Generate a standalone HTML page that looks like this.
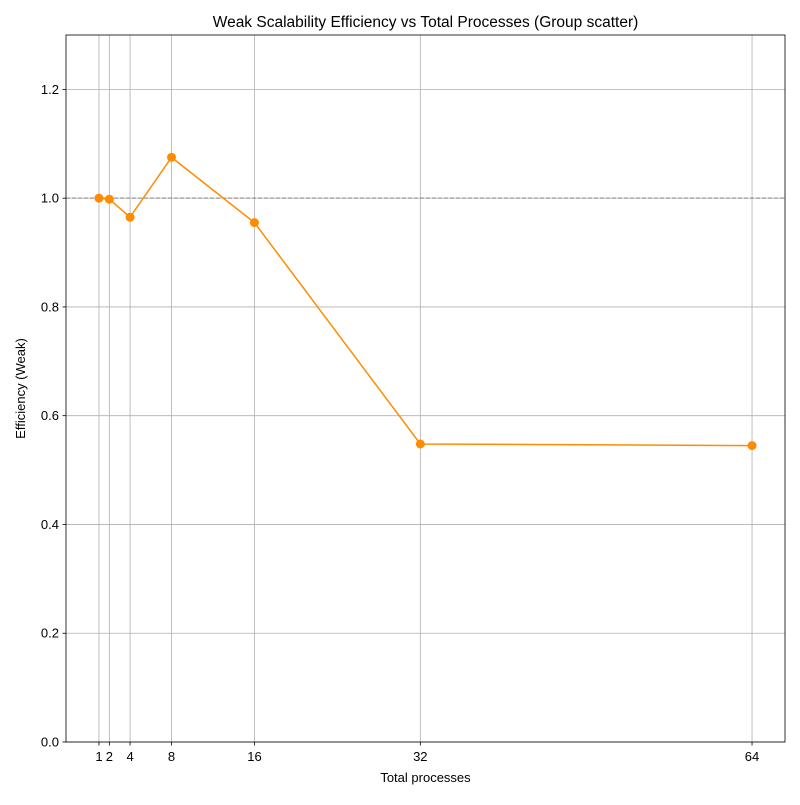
<!DOCTYPE html>
<html><head><meta charset="utf-8"><style>body{margin:0;background:#fff}svg{font-family:"Liberation Sans",sans-serif}</style></head>
<body>
<svg id="chart" width="800" height="800" xmlns="http://www.w3.org/2000/svg">
<rect x="0" y="0" width="800" height="800" fill="#fff"/>
<g id="grid"></g><g id="marks"></g><g id="axes"></g>
</svg>
<script>
const procs = [1, 2, 4, 8, 16, 32, 64];
const efficiency = [1.0, 0.998, 0.965, 1.075, 0.955, 0.548, 0.545];
const xTicks = [1, 2, 4, 8, 16, 32, 64];
const yTicks = [0.0, 0.2, 0.4, 0.6, 0.8, 1.0, 1.2];
const L = 66, R = 785, T = 35, B = 742;
const xMin = -2.18, xMax = 67.18, yMin = 0, yMax = 1.3;
const sx = v => L + (v - xMin) / (xMax - xMin) * (R - L);
const sy = v => B - (v - yMin) / (yMax - yMin) * (B - T);
const NS = "http://www.w3.org/2000/svg";
function mk(tag, attrs, parent, text) {
  const e = document.createElementNS(NS, tag);
  for (const k in attrs) e.setAttribute(k, attrs[k]);
  if (text !== undefined) e.textContent = text;
  document.getElementById(parent).appendChild(e);
  return e;
}
xTicks.forEach(t => {
  const g = mk("line", {x1: sx(t), x2: sx(t), y1: T, y2: B, stroke: "#b0b0b0", "stroke-width": 0.8}, "grid");
  
  
  const tk = mk("line", {x1: sx(t), x2: sx(t), y1: B, y2: B + 3.5, stroke: "#000", "stroke-width": 0.8}, "axes");
  
  
  const lb = mk("text", {x: sx(t), y: B + 19, "font-size": 13, "text-anchor": "middle"}, "axes", String(t));
  
  
});
yTicks.forEach(t => {
  const g = mk("line", {x1: L, x2: R, y1: sy(t), y2: sy(t), stroke: "#b0b0b0", "stroke-width": 0.8}, "grid");
  
  
  const tk = mk("line", {x1: L - 3.5, x2: L, y1: sy(t), y2: sy(t), stroke: "#000", "stroke-width": 0.8}, "axes");
  
  
  const lb = mk("text", {x: L - 7, y: sy(t) + 4.5, "font-size": 13, "text-anchor": "end"}, "axes", t.toFixed(1));
  
  
});
const ref = mk("line", {x1: L, x2: R, y1: sy(1), y2: sy(1), stroke: "#808080", "stroke-width": 1, "stroke-dasharray": "4,2"}, "marks");


const pl = mk("polyline", {points: procs.map((p, i) => sx(p) + "," + sy(efficiency[i])).join(" "), fill: "none", stroke: "#ff8c00", "stroke-width": 1.5}, "marks");


procs.forEach((p, i) => {
  const c = mk("circle", {cx: sx(p), cy: sy(efficiency[i]), r: 4.5, fill: "#ff8c00"}, "marks");
  
  
});
const fr = mk("rect", {x: L, y: T, width: R - L, height: B - T, fill: "none", stroke: "#000", "stroke-width": 0.8}, "axes");


const ti = mk("text", {x: (L + R) / 2, y: 27, "font-size": 15.5, "text-anchor": "middle"}, "axes", "Weak Scalability Efficiency vs Total Processes (Group scatter)");


const xt = mk("text", {x: (L + R) / 2, y: 782, "font-size": 13, "text-anchor": "middle"}, "axes", "Total processes");


const yt = mk("text", {x: 25, y: (T + B) / 2, "font-size": 13, "text-anchor": "middle", transform: "rotate(-90 25 " + (T + B) / 2 + ")"}, "axes", "Efficiency (Weak)");


</script>
</body></html>
